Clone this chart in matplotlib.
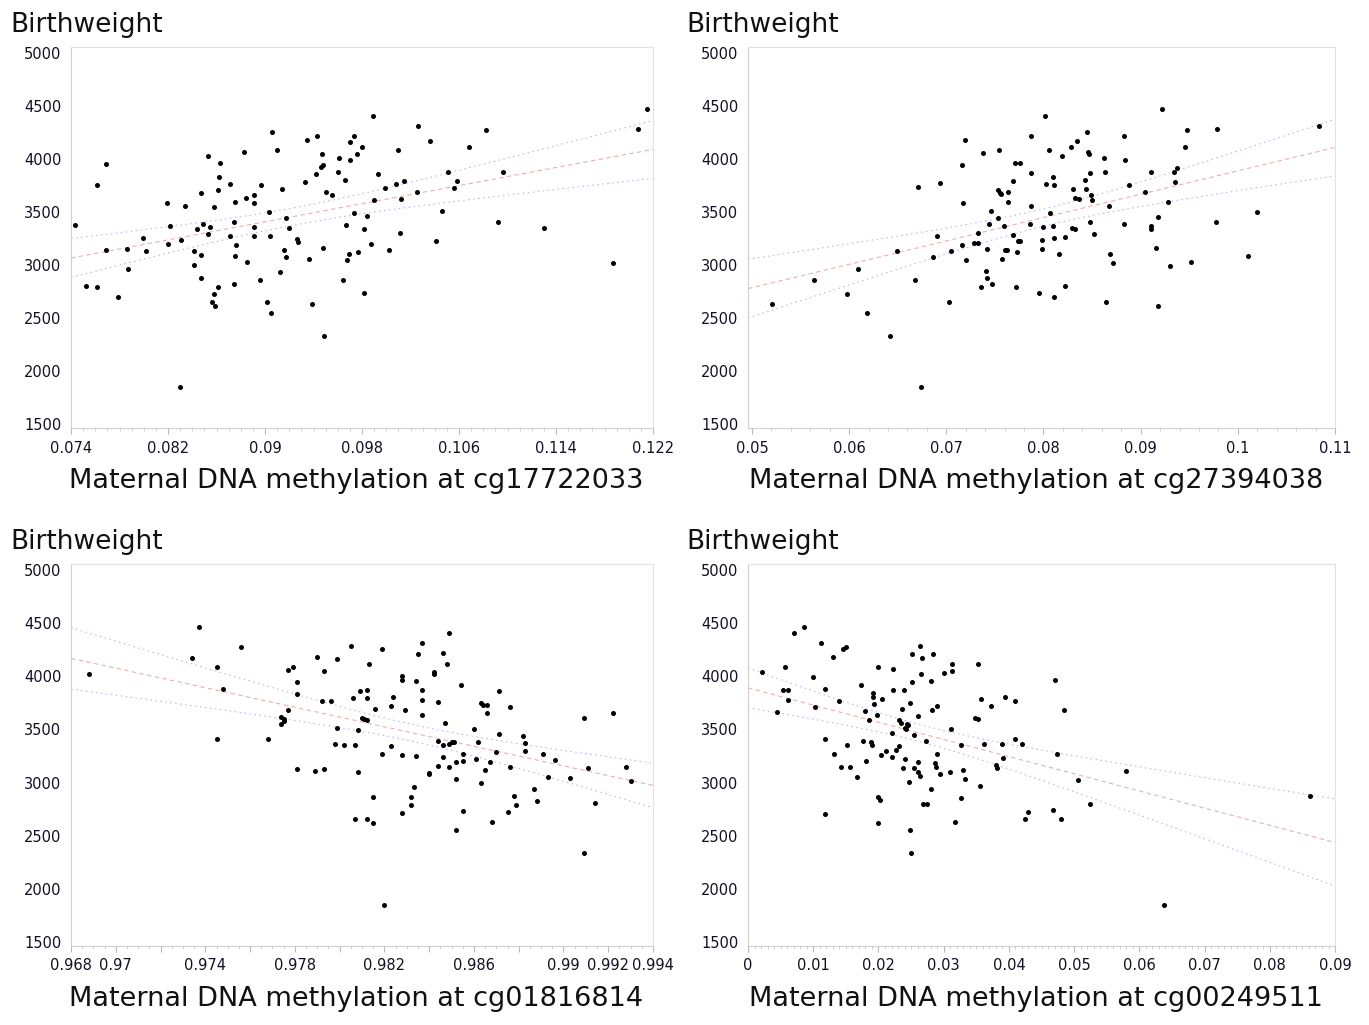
import numpy as np
import matplotlib
matplotlib.use('Agg')
import matplotlib.pyplot as plt
from matplotlib.ticker import FixedLocator, MultipleLocator

# ---- data ----
# cg17722033
x1 = [0.0743,0.0752,0.0761,0.0761,0.0769,0.0769,0.0779,0.0786,0.0787,0.0799,
      0.0802,0.0819,0.0820,0.0822,0.0830,0.0831,0.0834,0.0841,0.0841,0.0844,
      0.0847,0.0847,0.0847,0.0849,0.0853,0.0853,0.0855,0.0858,0.0856,0.0859,
      0.0858,0.0861,0.0861,0.0862,0.0863,0.0871,0.0871,0.0874,0.0875,0.0875,
      0.0876,0.0874,0.0883,0.0884,0.0885,0.0891,0.0891,0.0891,0.0891,0.0897,
      0.0896,0.0903,0.0904,0.0902,0.0905,0.0906,0.0910,0.0912,0.0914,0.0916,
      0.0917,0.0917,0.0920,0.0926,0.0927,0.0933,0.0935,0.0936,0.0939,0.0942,
      0.0943,0.0946,0.0947,0.0948,0.0948,0.0949,0.0950,0.0955,0.0960,0.0961,
      0.0964,0.0966,0.0967,0.0969,0.0968,0.0970,0.0970,0.0973,0.0973,0.0976,
      0.0977,0.0980,0.0982,0.0982,0.0984,0.0987,0.0989,0.0990,0.0993,0.0999,
      0.1002,0.1008,0.1010,0.1011,0.1012,0.1015,0.1025,0.1026,0.1036,0.1041,
      0.1046,0.1051,0.1056,0.1058,0.1068,0.1082,0.1092,0.1096,0.1130,0.1187,
      0.1208,0.1215]
y1 = [3380,2800,2790,3760,3955,3140,2700,3150,2965,3260,
      3130,3590,3200,3370,1850,3240,3560,3130,3000,3345,
      3685,3095,2880,3390,4030,3290,3360,2730,2655,2615,
      3550,3710,2790,3830,3965,3765,3270,3405,3600,3085,
      3190,2820,4065,3635,3030,3660,3590,3360,3270,3755,
      2855,3500,3270,2655,2550,4255,4085,2935,3720,3145,
      3440,3075,3350,3245,3220,3785,4185,3055,2635,3865,
      4215,3925,4045,3945,3160,2330,3695,3660,3875,4010,
      2855,3800,3380,3105,3050,4165,3995,3490,4215,4050,
      3120,4115,3340,2735,3460,3195,4410,3615,3865,3730,
      3145,3770,4085,3300,3620,3790,3690,4315,4175,3230,
      3515,3875,3730,3790,4120,4280,3410,3880,3350,3015,
      4290,4470]

# cg27394038
x2 = [0.0521,0.0564,0.0598,0.0609,0.0618,0.0642,0.0649,0.0668,0.0671,0.0674,
      0.0686,0.0690,0.0694,0.0703,0.0705,0.0716,0.0717,0.0716,0.0719,0.0720,
      0.0728,0.0733,0.0733,0.0736,0.0738,0.0741,0.0742,0.0742,0.0744,0.0746,
      0.0747,0.0753,0.0754,0.0753,0.0755,0.0756,0.0757,0.0759,0.0760,0.0762,
      0.0763,0.0764,0.0769,0.0769,0.0771,0.0772,0.0773,0.0774,0.0776,0.0776,
      0.0787,0.0787,0.0787,0.0786,0.0795,0.0798,0.0798,0.0800,0.0802,0.0803,
      0.0806,0.0807,0.0810,0.0811,0.0810,0.0811,0.0811,0.0816,0.0819,0.0822,
      0.0822,0.0828,0.0830,0.0829,0.0832,0.0832,0.0834,0.0837,0.0843,0.0844,
      0.0845,0.0846,0.0847,0.0848,0.0848,0.0849,0.0850,0.0852,0.0862,0.0863,
      0.0864,0.0867,0.0868,0.0872,0.0883,0.0884,0.0883,0.0888,0.0904,0.0911,
      0.0911,0.0911,0.0916,0.0918,0.0918,0.0922,0.0928,0.0930,0.0934,0.0935,
      0.0937,0.0946,0.0948,0.0952,0.0978,0.0979,0.1010,0.1020,0.1083]
y2 = [2635,2855,2725,2965,2550,2330,3130,2855,3735,1850,
      3075,3270,3775,2655,3130,3950,3590,3185,4180,3050,
      3205,3205,3305,2795,4055,2940,2880,3150,3385,3515,
      2825,3440,4085,3710,3685,3670,3060,3365,3145,3140,
      3595,3695,3790,3280,3960,2795,3120,3230,3965,3230,
      4215,3870,3560,3385,2735,3150,3240,3355,4410,3770,
      4085,3490,3835,3755,3365,3255,2700,3100,4030,2805,
      3265,4120,3720,3350,3635,3345,4170,3625,3805,3720,
      4255,4065,4050,3870,3410,3660,3615,3290,4015,3880,
      2650,3560,3105,3015,4215,3995,3390,3760,3690,3875,
      3365,3345,3160,3455,2615,4475,3600,2995,3880,3785,
      3915,4120,4280,3025,3410,4290,3085,3500,4315]

# cg01816814
x3 = [0.9688,0.9734,0.9737,0.9745,0.9745,0.9748,0.9756,0.9768,0.9774,0.9774,
      0.9775,0.9775,0.9777,0.9777,0.9779,0.9781,0.9781,0.9781,0.9789,0.9790,
      0.9792,0.9793,0.9793,0.9796,0.9798,0.9799,0.9799,0.9802,0.9805,0.9806,
      0.9807,0.9807,0.9808,0.9808,0.9809,0.9810,0.9812,0.9812,0.9811,0.9812,
      0.9813,0.9812,0.9815,0.9815,0.9816,0.9819,0.9819,0.9820,0.9823,0.9823,
      0.9824,0.9828,0.9828,0.9828,0.9828,0.9829,0.9832,0.9832,0.9833,0.9834,
      0.9834,0.9835,0.9837,0.9837,0.9837,0.9837,0.9840,0.9840,0.9842,0.9842,
      0.9844,0.9844,0.9844,0.9846,0.9846,0.9846,0.9847,0.9848,0.9849,0.9849,
      0.9850,0.9851,0.9849,0.9852,0.9852,0.9852,0.9854,0.9855,0.9855,0.9855,
      0.9860,0.9861,0.9862,0.9863,0.9863,0.9864,0.9865,0.9866,0.9866,0.9867,
      0.9868,0.9870,0.9871,0.9871,0.9875,0.9876,0.9876,0.9878,0.9879,0.9882,
      0.9883,0.9883,0.9887,0.9888,0.9891,0.9893,0.9896,0.9903,0.9909,0.9909,
      0.9911,0.9914,0.9922,0.9928,0.9930]
y3 = [4025,4175,4470,4085,3410,3880,4275,3410,3555,3620,
      3595,3580,4060,3680,4090,3945,3835,3130,3105,4185,
      3770,4050,3130,3765,3360,4165,3510,3350,4290,3800,
      3350,2655,3495,3095,3865,3605,3875,3800,3595,3590,
      4120,2655,2860,2615,3695,4255,3270,1850,3725,3340,
      3805,3965,4000,3260,2710,3685,2860,2790,2960,3960,
      3250,4210,3875,3780,3635,4315,3090,3080,4040,4020,
      3390,3760,3160,4220,3350,3240,3560,4120,3360,3150,
      3380,3385,4405,3030,3195,2555,3915,2735,3205,3270,
      3500,3225,3385,3750,2995,3735,3120,3735,3660,3195,
      2630,3290,3460,3865,2725,3715,3145,2875,2790,3440,
      3370,3300,2935,2825,3265,3055,3215,3045,2335,3610,
      3135,2805,3660,3145,3015]

# cg00249511
x4 = [0.0022,0.0045,0.0054,0.0056,0.0061,0.0061,0.0070,0.0086,0.0100,0.0102,
      0.0112,0.0118,0.0118,0.0118,0.0130,0.0132,0.0139,0.0142,0.0145,0.0150,
      0.0152,0.0156,0.0167,0.0173,0.0176,0.0180,0.0181,0.0186,0.0189,0.0190,
      0.0192,0.0192,0.0193,0.0198,0.0199,0.0200,0.0202,0.0199,0.0204,0.0206,
      0.0211,0.0220,0.0221,0.0222,0.0223,0.0227,0.0232,0.0232,0.0234,0.0236,
      0.0237,0.0239,0.0240,0.0241,0.0242,0.0243,0.0246,0.0248,0.0247,0.0248,
      0.0250,0.0251,0.0252,0.0255,0.0255,0.0260,0.0260,0.0261,0.0264,0.0265,
      0.0264,0.0266,0.0269,0.0273,0.0274,0.0281,0.0280,0.0282,0.0283,0.0286,
      0.0288,0.0289,0.0290,0.0295,0.0301,0.0309,0.0311,0.0313,0.0313,0.0318,
      0.0326,0.0326,0.0330,0.0333,0.0348,0.0353,0.0353,0.0355,0.0357,0.0362,
      0.0372,0.0380,0.0382,0.0390,0.0391,0.0394,0.0409,0.0410,0.0420,0.0424,
      0.0430,0.0467,0.0470,0.0474,0.0480,0.0485,0.0506,0.0524,0.0580,0.0637,
      0.0862]
y4 = [4045,3665,3870,4085,3870,3775,4405,4470,3995,3715,
      4315,3885,3410,2705,4185,3270,3765,3150,4255,4280,
      3355,3150,3050,3920,3390,3670,3200,3590,3380,3355,
      3840,3810,3740,3640,4090,2860,2835,2620,3260,3785,
      3300,3465,3245,3870,4070,3305,3345,3585,3565,3690,
      3140,3875,3220,3515,3500,3555,3545,3750,3005,2555,
      2335,3945,4215,3445,3135,3095,3195,3625,3065,4020,
      4290,4170,2800,3390,2800,2940,3955,3685,4215,3185,
      3150,3725,3270,3080,4030,3100,3505,4055,4115,2630,
      2855,3350,3120,3030,3610,3600,4115,2970,3790,3360,
      3725,3165,3135,3360,3235,3805,3765,3410,3365,2655,
      2725,2740,3965,3270,2655,3680,3020,2795,3105,1850,
      2875]

probes = ['cg17722033', 'cg27394038', 'cg01816814', 'cg00249511']

ticks1 = [0.074, 0.082, 0.09, 0.098, 0.106, 0.114, 0.122]
labels1 = ['0.074', '0.082', '0.09', '0.098', '0.106', '0.114', '0.122']
ticks2 = [0.05, 0.06, 0.07, 0.08, 0.09, 0.1, 0.11]
labels2 = ['0.05', '0.06', '0.07', '0.08', '0.09', '0.1', '0.11']
ticks3 = [0.968, 0.970, 0.972, 0.974, 0.976, 0.978, 0.980, 0.982,
          0.984, 0.986, 0.988, 0.990, 0.992, 0.994]
labels3 = ['0.968', '0.97', '', '0.974', '', '0.978', '', '0.982',
           '', '0.986', '', '0.99', '0.992', '0.994']
ticks4 = [0, 0.01, 0.02, 0.03, 0.04, 0.05, 0.06, 0.07, 0.08, 0.09]
labels4 = ['0', '0.01', '0.02', '0.03', '0.04', '0.05', '0.06', '0.07', '0.08', '0.09']
yticks = [1500, 2000, 2500, 3000, 3500, 4000, 4500, 5000]

plt.rcParams['font.family'] = ['DejaVu Sans']

fig = plt.figure(figsize=(13.69, 10.25), dpi=100)
fig.patch.set_facecolor('white')

rects = [[0.0519, 0.5824, 0.4251, 0.3717],
         [0.5464, 0.5824, 0.4288, 0.3717],
         [0.0519, 0.0771, 0.4251, 0.3727],
         [0.5464, 0.0771, 0.4288, 0.3727]]

panels = [(x1, y1, (0.074, 0.122), ticks1, labels1, 0.001),
          (x2, y2, (0.0496, 0.11), ticks2, labels2, 0.002),
          (x3, y3, (0.968, 0.994), ticks3, labels3, 0.0005),
          (x4, y4, (0.0, 0.09), ticks4, labels4, 0.001)]

for rect, (xs, ys, xlim, tks, tlabs, minor), probe in zip(rects, panels, probes):
    ax = fig.add_axes(rect)
    xs = np.array(xs)
    ys = np.array(ys)

    # regression line with 95% confidence band of the mean
    slope, icpt = np.polyfit(xs, ys, 1)
    n = len(xs)
    resid = ys - (slope * xs + icpt)
    s = np.sqrt(np.sum(resid ** 2) / (n - 2))
    sxx = np.sum((xs - xs.mean()) ** 2)
    gx = np.linspace(xlim[0], xlim[1], 200)
    fit = slope * gx + icpt
    half = 1.98 * s * np.sqrt(1.0 / n + (gx - xs.mean()) ** 2 / sxx)
    ax.plot(gx, fit, color='#e07a7a', lw=0.8, ls=(0, (4, 3)), alpha=0.6, zorder=1)
    ax.plot(gx, fit + half, color='#8a8aff', lw=0.8, ls=(0, (1.5, 3)), alpha=0.6, zorder=1)
    ax.plot(gx, fit - half, color='#8a8aff', lw=0.8, ls=(0, (1.5, 3)), alpha=0.6, zorder=1)

    ax.scatter(xs, ys, s=13, c='black', linewidths=0, zorder=3)

    ax.set_xlim(*xlim)
    ax.set_ylim(1460, 5060)
    ax.xaxis.set_major_locator(FixedLocator(tks))
    ax.set_xticklabels(tlabs)
    ax.xaxis.set_minor_locator(MultipleLocator(minor))
    ax.set_yticks(yticks)
    ax.set_yticklabels([str(v) for v in yticks])

    for sp in ax.spines.values():
        sp.set_color('#e2e2e2')
        sp.set_linewidth(0.8)
    ax.spines['left'].set_color('#cfcfcf')
    ax.spines['bottom'].set_color('#cfcfcf')

    ax.tick_params(axis='x', which='major', direction='out', length=4, width=0.8,
                   color='#b8b8b8', labelsize=10.5, labelcolor='#111122', pad=5)
    ax.tick_params(axis='x', which='minor', direction='out', length=2, width=0.6,
                   color='#c8c8c8')
    ax.tick_params(axis='y', which='major', length=0, labelsize=10.5,
                   labelcolor='#111122', pad=7)

    ax.text(-0.105, 1.058, 'Birthweight', transform=ax.transAxes,
            ha='left', va='center', fontsize=19, color='#111111')
    ax.set_xlabel('Maternal DNA methylation at ' + probe, fontsize=19.5, color='#111111')
    ax.xaxis.set_label_coords(0.49, -0.14)
    ax.xaxis.label.set_va('center')

fig.savefig('out.png', dpi=100, facecolor='white')
